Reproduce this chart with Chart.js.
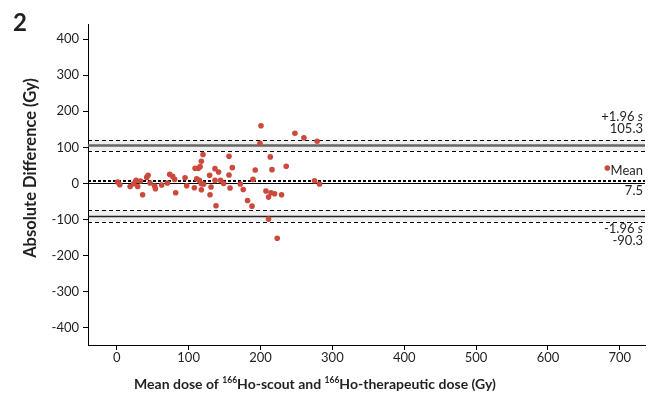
<!DOCTYPE html>
<html>
<head>
<meta charset="utf-8">
<script src="https://cdn.jsdelivr.net/npm/chart.js@4.4.1/dist/chart.umd.min.js"></script>
<style>
  html, body { margin: 0; padding: 0; background: #fff; }
  #wrap { width: 651px; height: 400px; position: relative; }
</style>
</head>
<body>
<div id="wrap"><canvas id="chBA"></canvas></div>
<script>
// mean dose (Gy) vs absolute difference (Gy)
const meanDose = [1.4, 4.2, 18.6, 23.6, 27, 29.2, 33, 36, 41.7, 43.6, 46.4, 52.8, 53.8, 62.5, 70.5,
  73.7, 77.8, 80.6, 82, 95, 97.3, 108, 109, 111.2, 113.5, 116, 115, 117.7, 117.7, 120, 121, 117.7,
  129.2, 129.8, 131.2, 136.7, 136.7, 138.1, 141.7, 144.5, 148.7, 156.2, 156.2, 157.6, 160.8, 171.9,
  176, 182, 188.2, 189.6, 192.7, 199.3, 200.7, 207.6, 211.2, 211.2, 213.6, 214.6, 216, 219.6, 223.3,
  229.3, 235.8, 247.9, 260.4, 278.9, 275.2, 282.1, 682.6];
const absDiff = [3.9, -3.6, -8.4, -0.8, 8.4, -8.4, 6.7, -31.5, 16.7, 22.3, 1.1, -7.2, -14.8, -4.5, 1.1,
  25, 19.5, 11.1, -25.9, 15.9, -6.4, -12, 41.8, 13.1, 41.8, 46.5, 8.4, 61.3, -17.5, 80, -1.7, -0.8,
  22.3, -31.5, -10, 41, 8.4, -62, 31.8, 8.4, 0, 75.2, 23.4, -12.8, 43.7, -1.7,
  -16.7, -47.4, -63, 11.1, 37.3, 111.4, 160, -21.2, -37.9, -99, 73.5, -25.9, 38.2, -28.7, -152,
  -31.5, 47.4, 139.3, 126.5, 117, 7.5, -1.7, 42.9];

const xTicks = [0, 100, 200, 300, 400, 500, 600, 700];
const yTicks = [-400, -300, -200, -100, 0, 100, 200, 300, 400];

// Bland-Altman limits: [lower CI, value, upper CI]
const upperLoA = [90, 105.3, 121];
const lowerLoA = [-106, -90.3, -75];
const meanCI = [6, 10];
const meanVal = 7.5;

const FONT = 'Lato, "Open Sans", sans-serif';
const INK = '#231f20';

const baPlugin = {
  id: 'ba',
  beforeDatasetsDraw(chart) {
    const { ctx, chartArea: a, scales: { y } } = chart;
    ctx.save();
    // shaded bands of the limits of agreement
    ctx.fillStyle = '#eeeeee';
    [upperLoA, lowerLoA].forEach(l => {
      const t = y.getPixelForValue(l[2]), b = y.getPixelForValue(l[0]);
      ctx.fillRect(a.left + 1, t, a.right - a.left - 1, b - t);
    });
    const hline = (v, color, w, dash) => {
      const py = Math.round(y.getPixelForValue(v)) + 0.5;
      ctx.beginPath();
      ctx.strokeStyle = color; ctx.lineWidth = w; ctx.setLineDash(dash || []);
      ctx.moveTo(a.left, py); ctx.lineTo(a.right, py); ctx.stroke();
    };
    hline(0, '#000', 1.2);
    hline(upperLoA[1], '#666', 2.4);
    hline(lowerLoA[1], '#222', 1.4);
    [upperLoA[0], upperLoA[2], lowerLoA[0], lowerLoA[2]].forEach(v => hline(v, '#000', 1.1, [4, 3]));
    meanCI.forEach(v => hline(v, '#000', 1, [3, 2]));
    ctx.restore();
  },
  afterDraw(chart) {
    const { ctx, chartArea: a, scales: { y } } = chart;
    ctx.save();
    ctx.fillStyle = INK;
    ctx.textBaseline = 'alphabetic';

    // right-hand labels
    ctx.textAlign = 'right';
    ctx.font = '13px ' + FONT;
    const rx = a.right - 2;
    const sLabel = (sign, py) => {
      ctx.font = 'italic 13px ' + FONT;
      const sw = ctx.measureText('s').width;
      ctx.fillText('s', rx, py);
      ctx.font = '13px ' + FONT;
      ctx.fillText(sign + '1.96 ', rx - sw, py);
    };
    const yu = y.getPixelForValue(upperLoA[2]);
    sLabel('+', yu - 19);
    ctx.fillText(upperLoA[1].toFixed(1), rx, yu - 7);
    ctx.fillText('Mean', rx, y.getPixelForValue(meanCI[1]) - 5);
    ctx.fillText(meanVal.toFixed(1), rx, y.getPixelForValue(0) + 12);
    const yl = y.getPixelForValue(lowerLoA[0]);
    sLabel('-', yl + 11);
    ctx.fillText(lowerLoA[1].toFixed(1), rx, yl + 23);

    // panel number
    ctx.textAlign = 'left';
    ctx.font = 'bold 24px ' + FONT;
    ctx.fillText('2', 13, 31);

    // y title
    ctx.save();
    ctx.translate(36, 168);
    ctx.rotate(-Math.PI / 2);
    ctx.textAlign = 'center';
    ctx.font = 'bold 16.5px ' + FONT;
    ctx.fillText('Absolute Difference (Gy)', 0, 0);
    ctx.restore();

    // x title with superscripts
    const parts = [['Mean dose of ', 0], ['166', 1], ['Ho-scout and ', 0], ['166', 1], ['Ho-therapeutic dose (Gy)', 0]];
    const fMain = 'bold 14px ' + FONT, fSup = 'bold 8.5px ' + FONT;
    let tw = 0;
    parts.forEach(p => { ctx.font = p[1] ? fSup : fMain; tw += ctx.measureText(p[0]).width; });
    let x = 315 - tw / 2;
    const by = 389;
    parts.forEach(p => {
      ctx.font = p[1] ? fSup : fMain;
      ctx.fillText(p[0], x, p[1] ? by - 6 : by);
      x += ctx.measureText(p[0]).width;
    });
    ctx.restore();
  }
};

new Chart(document.getElementById('chBA'), {
  type: 'scatter',
  data: {
    datasets: [{
      data: meanDose.map((v, i) => ({ x: v, y: absDiff[i] })),
      backgroundColor: '#cb4a3c',
      borderWidth: 0,
      pointRadius: 2.8,
      pointHoverRadius: 2.8
    }]
  },
  options: {
    responsive: true,
    maintainAspectRatio: false,
    animation: false,
    layout: { padding: { top: 24, right: 6, left: 0, bottom: 0 } },
    plugins: { legend: { display: false }, tooltip: { enabled: false } },
    scales: {
      x: {
        type: 'linear', min: -40, max: 735,
        afterBuildTicks: s => { s.ticks = xTicks.map(v => ({ value: v })); },
        afterFit: s => { s.height = 55; },
        grid: { drawOnChartArea: false, drawTicks: true, tickLength: 5, color: '#000' },
        border: { display: true, color: '#000', width: 1 },
        ticks: { color: INK, font: { family: FONT, size: 13 }, padding: 0, maxRotation: 0 }
      },
      y: {
        type: 'linear', min: -448, max: 442,
        afterBuildTicks: s => { s.ticks = yTicks.map(v => ({ value: v })); },
        afterFit: s => { s.width = 88; },
        grid: { drawOnChartArea: false, drawTicks: true, tickLength: 5, color: '#000' },
        border: { display: true, color: '#000', width: 1 },
        ticks: { color: INK, font: { family: FONT, size: 13 }, padding: 4 }
      }
    }
  },
  plugins: [baPlugin]
});
</script>
</body>
</html>
